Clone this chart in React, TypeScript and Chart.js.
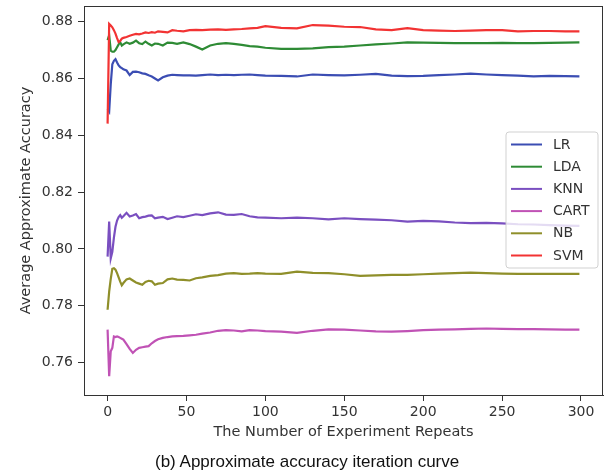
import React, { useEffect, useRef } from "react";
import { Chart, registerables } from "chart.js";

Chart.register(...registerables);

// ---- data ----
const repeats = [0,1,2,3,4,5,6,7,8,9,10,12,14,16,18,20,22,24,26,28,30,32,35,38,41,44,48,52,56,60,65,70,75,80,85,90,95,100,110,120,130,140,150,160,170,180,190,200,210,220,230,240,250,260,270,280,290,299];

const lrAcc = [0.8494,0.8484,0.8580,0.8650,0.8662,0.8668,0.8656,0.8646,0.8640,0.8636,0.8632,0.8628,0.8612,0.8623,0.8624,0.8622,0.8618,0.8616,0.8611,0.8607,0.8600,0.8593,0.8604,0.8610,0.8613,0.8612,0.8611,0.8611,0.8610,0.8612,0.8614,0.8612,0.8613,0.8612,0.8613,0.8614,0.8612,0.8610,0.8609,0.8607,0.8614,0.8612,0.8611,0.8613,0.8616,0.8610,0.8608,0.8609,0.8612,0.8614,0.8617,0.8614,0.8612,0.8610,0.8607,0.8609,0.8608,0.8607];

const ldaAcc = [0.8735,0.8752,0.8698,0.8694,0.8694,0.8700,0.8710,0.8720,0.8727,0.8716,0.8720,0.8727,0.8722,0.8726,0.8733,0.8724,0.8721,0.8730,0.8722,0.8716,0.8723,0.8722,0.8716,0.8726,0.8725,0.8722,0.8727,0.8721,0.8712,0.8702,0.8716,0.8722,0.8724,0.8722,0.8718,0.8714,0.8712,0.8708,0.8704,0.8704,0.8706,0.8710,0.8712,0.8716,0.8720,0.8723,0.8727,0.8726,0.8725,0.8724,0.8724,0.8724,0.8725,0.8724,0.8724,0.8725,0.8726,0.8727];

const knnAcc = [0.7973,0.8096,0.7967,0.7990,0.8040,0.8078,0.8100,0.8112,0.8119,0.8110,0.8115,0.8127,0.8114,0.8118,0.8123,0.8108,0.8112,0.8114,0.8117,0.8118,0.8108,0.8110,0.8113,0.8105,0.8110,0.8115,0.8112,0.8117,0.8122,0.8119,0.8125,0.8129,0.8121,0.8120,0.8123,0.8115,0.8111,0.8110,0.8108,0.8110,0.8108,0.8104,0.8108,0.8105,0.8103,0.8101,0.8096,0.8099,0.8097,0.8093,0.8091,0.8092,0.8090,0.8087,0.8086,0.8084,0.8082,0.8081];

const cartAcc = [0.7716,0.7552,0.7640,0.7652,0.7692,0.7690,0.7692,0.7690,0.7687,0.7684,0.7681,0.7665,0.7648,0.7634,0.7645,0.7652,0.7654,0.7656,0.7658,0.7668,0.7676,0.7682,0.7687,0.7690,0.7692,0.7693,0.7694,0.7696,0.7698,0.7702,0.7706,0.7712,0.7714,0.7713,0.7710,0.7714,0.7713,0.7711,0.7709,0.7705,0.7712,0.7717,0.7716,0.7713,0.7710,0.7709,0.7711,0.7714,0.7716,0.7717,0.7719,0.7720,0.7719,0.7718,0.7718,0.7717,0.7716,0.7716];

const nbAcc = [0.7786,0.7850,0.7895,0.7930,0.7932,0.7927,0.7915,0.7900,0.7885,0.7872,0.7880,0.7893,0.7896,0.7889,0.7882,0.7878,0.7874,0.7884,0.7888,0.7886,0.7874,0.7878,0.7880,0.7893,0.7896,0.7892,0.7891,0.7889,0.7897,0.7900,0.7905,0.7908,0.7913,0.7915,0.7912,0.7913,0.7915,0.7913,0.7912,0.7920,0.7916,0.7915,0.7911,0.7905,0.7907,0.7909,0.7909,0.7911,0.7913,0.7915,0.7917,0.7915,0.7913,0.7912,0.7912,0.7912,0.7912,0.7912];

const svmAcc = [0.8441,0.8792,0.8786,0.8780,0.8770,0.8758,0.8742,0.8728,0.8732,0.8740,0.8743,0.8746,0.8750,0.8754,0.8757,0.8755,0.8758,0.8762,0.8760,0.8763,0.8761,0.8766,0.8764,0.8762,0.8770,0.8768,0.8766,0.8770,0.8771,0.8770,0.8772,0.8773,0.8771,0.8773,0.8774,0.8776,0.8778,0.8784,0.8778,0.8776,0.8788,0.8786,0.8782,0.8781,0.8773,0.8770,0.8777,0.8770,0.8768,0.8767,0.8768,0.8770,0.8770,0.8766,0.8767,0.8767,0.8766,0.8766];

const seriesNames = ["LR", "LDA", "KNN", "CART", "NB", "SVM"];
const seriesColors = ["#3b4db3", "#2e8b35", "#7a4fc0", "#c052b5", "#8f8f2a", "#f23333"];
const xTicks = [0, 50, 100, 150, 200, 250, 300];
const yTicks = [0.76, 0.78, 0.8, 0.82, 0.84, 0.86, 0.88];

const xTitle = "The Number of Experiment Repeats";
const yTitle = "Average Approximate Accuracy";
const caption = "(b) Approximate accuracy iteration curve";

const FONT = "'DejaVu Sans', sans-serif";

const framePlugin = {
  id: "frame",
  afterDatasetsDraw(chart: any) {
    const { ctx, chartArea: a } = chart;
    ctx.save();
    ctx.strokeStyle = "#333";
    ctx.lineWidth = 1;
    ctx.strokeRect(Math.round(a.left) + 0.5, Math.round(a.top) + 0.5, Math.round(a.right - a.left) - 1, Math.round(a.bottom - a.top));
    ctx.restore();
  },
};

const legendPlugin = {
  id: "boxLegend",
  afterDraw(chart: any) {
    const { ctx, chartArea: a } = chart;
    const x0 = a.right - 97;
    const y0 = a.top + 126;
    const w = 92;
    const h = 136;
    const r = 3;
    ctx.save();
    ctx.beginPath();
    ctx.moveTo(x0 + r, y0);
    ctx.lineTo(x0 + w - r, y0);
    ctx.arcTo(x0 + w, y0, x0 + w, y0 + r, r);
    ctx.lineTo(x0 + w, y0 + h - r);
    ctx.arcTo(x0 + w, y0 + h, x0 + w - r, y0 + h, r);
    ctx.lineTo(x0 + r, y0 + h);
    ctx.arcTo(x0, y0 + h, x0, y0 + h - r, r);
    ctx.lineTo(x0, y0 + r);
    ctx.arcTo(x0, y0, x0 + r, y0, r);
    ctx.closePath();
    ctx.fillStyle = "rgba(255,255,255,0.8)";
    ctx.fill();
    ctx.strokeStyle = "rgba(204,204,204,0.9)";
    ctx.lineWidth = 1;
    ctx.stroke();
    ctx.font = `14px ${FONT}`;
    ctx.textBaseline = "middle";
    ctx.textAlign = "left";
    chart.data.datasets.forEach((ds: any, i: number) => {
      const yy = y0 + 12.5 + i * 22.2;
      ctx.strokeStyle = ds.borderColor;
      ctx.lineWidth = 2;
      ctx.beginPath();
      ctx.moveTo(x0 + 5, yy);
      ctx.lineTo(x0 + 36, yy);
      ctx.stroke();
      ctx.fillStyle = "#333";
      ctx.fillText(ds.label, x0 + 47, yy + 0.5);
    });
    ctx.restore();
  },
};

export default function App() {
  const ref = useRef<HTMLCanvasElement | null>(null);

  useEffect(() => {
    if (!ref.current) return;
    const allSeries = [lrAcc, ldaAcc, knnAcc, cartAcc, nbAcc, svmAcc];
    const datasets = seriesNames.map((name, i) => ({
      label: name,
      data: repeats.map((x, j) => ({ x, y: allSeries[i][j] })),
      borderColor: seriesColors[i],
      backgroundColor: seriesColors[i],
      borderWidth: 2.2,
      pointRadius: 0,
      tension: 0,
      fill: false,
      order: seriesNames.length - i,
    }));
    const chart = new Chart(ref.current, {
      type: "line",
      data: { datasets },
      plugins: [framePlugin, legendPlugin],
      options: {
        responsive: false,
        animation: false,
        layout: { padding: { top: 6, right: 5, left: 0, bottom: 0 } },
        plugins: { legend: { display: false }, tooltip: { enabled: false } },
        scales: {
          x: {
            type: "linear",
            min: -14.95,
            max: 313.95,
            afterFit: (s: any) => { s.height = 77; s.paddingLeft = 0; s.paddingRight = 0; },
            afterBuildTicks: (s: any) => { s.ticks = xTicks.map((v) => ({ value: v })); },
            grid: { drawOnChartArea: false, drawTicks: true, tickLength: 6, tickColor: "#333" },
            border: { display: true, color: "#333", width: 1 },
            ticks: { color: "#333", font: { family: FONT, size: 14 }, padding: 3, maxRotation: 0, callback: (v: any) => String(v) },
            title: { display: true, text: xTitle, color: "#333", font: { family: FONT, size: 14.5 }, padding: { top: 0, bottom: 31 } },
          },
          y: {
            type: "linear",
            min: 0.7486,
            max: 0.8855,
            afterFit: (s: any) => { s.width = 84; s.paddingTop = 0; s.paddingBottom = 0; },
            afterBuildTicks: (s: any) => { s.ticks = yTicks.map((v) => ({ value: v })); },
            grid: { drawOnChartArea: false, drawTicks: true, tickLength: 6, tickColor: "#333" },
            border: { display: true, color: "#333", width: 1 },
            ticks: { color: "#333", font: { family: FONT, size: 14 }, padding: 5, callback: (v: any) => Number(v).toFixed(2) },
            title: { display: true, text: yTitle, color: "#333", font: { family: FONT, size: 14.5 }, padding: { top: 18, bottom: 0 } },
          },
        },
      },
    });
    return () => chart.destroy();
  }, []);

  return (
    <div style={{ position: "absolute", left: 0, top: 0, width: 608, height: 472, background: "#fff", overflow: "hidden" }}>
      <canvas ref={ref} width={608} height={472} style={{ display: "block" }} />
      <div
        style={{
          position: "absolute",
          left: 155,
          top: 453,
          fontFamily: "'Liberation Sans', Arial, sans-serif",
          fontSize: 17,
          lineHeight: "17px",
          color: "#111",
          whiteSpace: "nowrap",
        }}
      >
        {caption}
      </div>
    </div>
  );
}
